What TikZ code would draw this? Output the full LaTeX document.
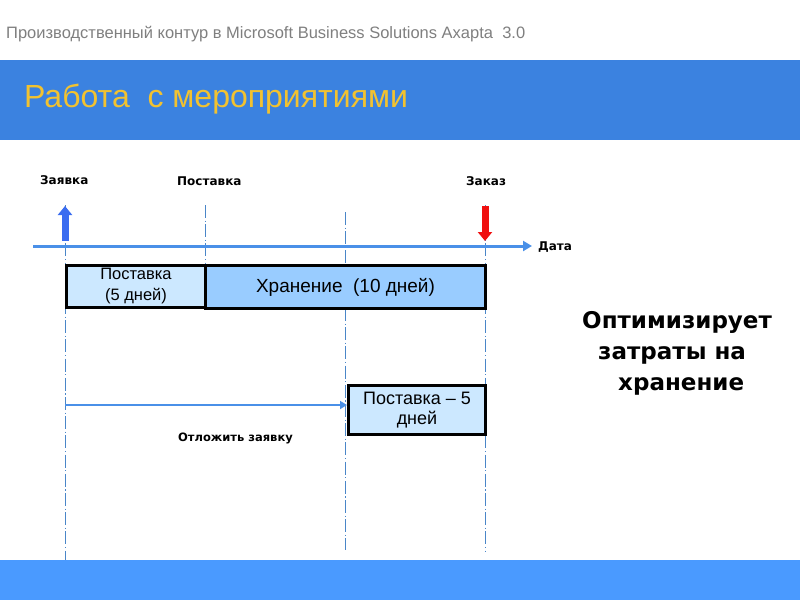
\documentclass[tikz,border=0pt]{standalone}
\usepackage{fontspec}
\setmainfont{Liberation Sans}
\newfontfamily\lblfont{DejaVu Sans}
\usetikzlibrary{arrows.meta}
\definecolor{bandblue}{HTML}{3B82E0}
\definecolor{footblue}{HTML}{4A9AFF}
\definecolor{titleyellow}{HTML}{F2C230}
\definecolor{subgray}{HTML}{7F7F7F}
\definecolor{axisblue}{HTML}{4A90E8}
\definecolor{guideblue}{HTML}{4A86C8}
\definecolor{lightbox}{HTML}{CCE8FF}
\definecolor{midbox}{HTML}{99CCFF}
\definecolor{uparrow}{HTML}{3A6CF0}
\definecolor{downarrow}{HTML}{F01010}
\tikzset{
  lbl/.style={font=\lblfont\bfseries\fontsize{12}{14}\selectfont, inner sep=0pt, anchor=west},
  guide/.style={guideblue, line width=0.8pt, dash pattern=on 13pt off 2.5pt on 1.2pt off 2.5pt},
  boxbase/.style={draw=black, line width=3pt, inner sep=0pt, anchor=north west, align=center},
  axis/.style={axisblue, line width=3pt, -{Triangle[length=9pt,width=10pt]}},
  fat/.style={line width=7pt, -{Triangle[length=9pt,width=14pt]}},
  bigtxt/.style={font=\lblfont\bfseries\fontsize{23}{26}\selectfont, inner sep=0pt, anchor=base west}
}
\begin{document}
\begin{tikzpicture}[x=1pt,y=-1pt]
\useasboundingbox (0,0) rectangle (800,600);
% header
\node[inner sep=0pt, anchor=base west, text=subgray, font=\fontsize{16.5}{19}\selectfont] (sub) at (6,38) {Производственный контур в Microsoft Business Solutions Axapta\ \ 3.0};
\fill[bandblue] (0,60) rectangle (800,140);
\node[inner sep=0pt, anchor=base west, text=titleyellow, font=\fontsize{32}{36}\selectfont] (title) at (24,107) {Работа\ \ с мероприятиями};
\fill[footblue] (0,560) rectangle (800,600);
% guides
\coordinate (g1t) at (65,205); \coordinate (g1b) at (65,560);
\coordinate (g2t) at (205,205); \coordinate (g2b) at (205,264);
\coordinate (g3t) at (345,212); \coordinate (g3b) at (345,550);
\coordinate (g4t) at (485,205); \coordinate (g4b) at (485,552);
\draw[guide] (g1t) -- (g1b);
\draw[guide] (g2t) -- (g2b);
\draw[guide] (g3t) -- (g3b);
\draw[guide] (g4t) -- (g4b);
% axis
\coordinate (ax0) at (33,246); \coordinate (ax1) at (532,246);
\draw[axis] (ax0) -- (ax1);
\node[lbl] (data) at (538,247) {Дата};
% event arrows
\coordinate (upb) at (65,241); \coordinate (upt) at (65,206);
\draw[fat, uparrow] (upb) -- (upt);
\coordinate (dnt) at (485,206); \coordinate (dnb) at (485,241);
\draw[fat, downarrow] (dnt) -- (dnb);
% labels
\node[lbl] (zayavka) at (40,180) {Заявка};
\node[lbl] (postavka) at (177,181) {Поставка};
\node[lbl] (zakaz) at (466,181) {Заказ};
% boxes
\node[boxbase, fill=lightbox, minimum width=139pt, minimum height=42pt, font=\fontsize{16.5}{21}\selectfont] (b1) at (65,264) {Поставка\\(5 дней)};
\node[boxbase, fill=midbox, minimum width=280pt, minimum height=43pt, font=\fontsize{19}{22}\selectfont] (b2) at (204,264) {Хранение\ \ (10 дней)};
\node[boxbase, fill=lightbox, minimum width=137pt, minimum height=49pt, font=\fontsize{18}{20}\selectfont] (b3) at (347,384) {Поставка – 5\\дней};
% postpone arrow
\coordinate (pp0) at (65,405);
\draw[axisblue, line width=2pt, -{Triangle[length=7pt,width=8pt]}] (pp0) -- (b3.west |- pp0);
\node[lbl, font=\lblfont\bfseries\fontsize{11.5}{14}\selectfont] (otl) at (178,438) {Отложить заявку};
% right text
\node[bigtxt] (t1) at (582,328) {Оптимизирует};
\node[bigtxt] (t2) at (598,359) {затраты на};
\node[bigtxt] (t3) at (618,390) {хранение};
\end{tikzpicture}
\end{document}
